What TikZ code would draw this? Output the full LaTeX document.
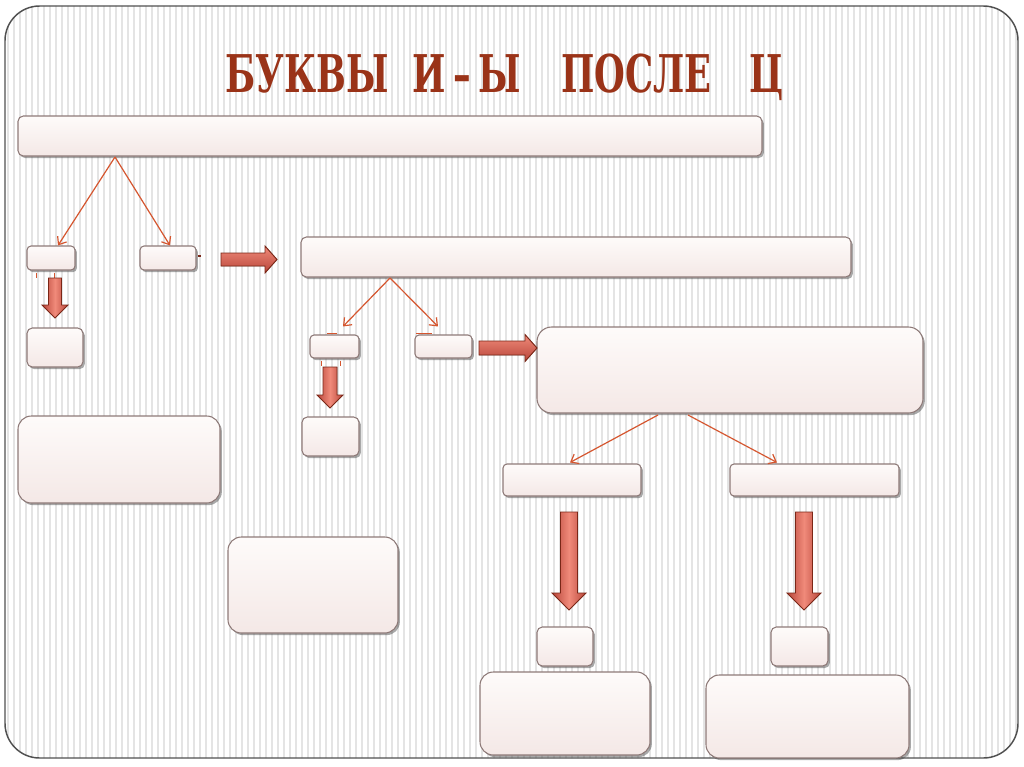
\documentclass[tikz,border=0pt]{standalone}
\usepackage{fontspec}
\newfontfamily\titlefont{DejaVu Serif}
\usetikzlibrary{arrows.meta,shadows,fit,calc}
\definecolor{boxfill}{HTML}{F4E8E6}
\definecolor{boxtop}{HTML}{FEFBFA}
\definecolor{boxedge}{HTML}{8E7A78}
\definecolor{thinarrow}{HTML}{D5562F}
\definecolor{fatlight}{HTML}{F08A7A}
\definecolor{fatdark}{HTML}{B8463A}
\definecolor{fatedge}{HTML}{7A2717}
\definecolor{titlered}{HTML}{9A3318}
\definecolor{stripecol}{HTML}{E4E4E4}
\definecolor{framecol}{HTML}{505050}
\tikzset{
  pbox/.style={draw=boxedge, line width=0.8pt, top color=boxtop, bottom color=boxfill,
    inner sep=0pt,
    drop shadow={shadow xshift=1.4pt, shadow yshift=-1.6pt, fill=black!75, opacity=0.45}},
  thinconn/.style={draw=thinarrow, line width=0.9pt, -{Straight Barb[length=5pt,width=8pt]}},
  fatH/.style={draw=fatedge, line width=0.7pt, top color=fatlight, bottom color=fatdark},
  fatV/.style={draw=fatedge, line width=0.7pt, left color=fatdark, right color=fatdark, middle color=fatlight},
  tick/.style={draw=thinarrow, line width=0.9pt}
}
\newcommand{\mkbox}[6]{\node[pbox, rounded corners=#6, fit={(#2,#3) (#4,#5)}] (#1) {};}
% right arrow: tail x, y centre, tip x, shaft half, head half, head length
\newcommand{\fatright}[6]{\filldraw[fatH] (#1,#2-#4) -- (#3-#6,#2-#4) -- (#3-#6,#2-#5) -- (#3,#2) -- (#3-#6,#2+#5) -- (#3-#6,#2+#4) -- (#1,#2+#4) -- cycle;}
% down arrow: x centre, tail y, tip y, shaft half, head half, head length
\newcommand{\fatdown}[6]{\filldraw[fatV] (#1-#4,#2) -- (#1-#4,#3-#6) -- (#1-#5,#3-#6) -- (#1,#3) -- (#1+#5,#3-#6) -- (#1+#4,#3-#6) -- (#1+#4,#2) -- cycle;}
\begin{document}
\begin{tikzpicture}[x=0.75pt,y=-0.75pt]
\useasboundingbox (0,0) rectangle (1024,767);
\fill[white] (0,0) rectangle (1024,767);
\begin{scope}
  \clip[rounded corners=26pt] (5,6) rectangle (1018,758);
  \foreach \x in {8,14,...,1016} \draw[stripecol, line width=1.2pt] (\x,0) -- (\x,767);
\end{scope}
\draw[framecol, line width=1.1pt, rounded corners=26pt] (5,6) rectangle (1018,758);

% title
\node[anchor=base west, inner sep=0pt, text=titlered] (title) at (225,93)
  {\scalebox{0.68}[1]{\titlefont\bfseries\fontsize{39}{39}\selectfont БУКВЫ\hspace*{26.5pt}И\hspace*{7.7pt}–\hspace*{8.8pt}Ы\hspace*{44pt}ПОСЛЕ\hspace*{42pt}Ц}};

% boxes
\mkbox{bar1}{18}{116}{762}{156}{4pt}
\mkbox{A}{27}{246}{75}{270}{3pt}
\mkbox{B}{140}{246}{196}{270}{3pt}
\mkbox{C}{27}{328}{83}{367}{4pt}
\mkbox{L1}{18}{416}{220}{503}{10pt}
\mkbox{L2}{228}{537}{398}{633}{10pt}
\mkbox{bar2}{301}{237}{851}{277}{4pt}
\mkbox{D}{310}{335}{359}{358}{3pt}
\mkbox{E}{415}{335}{472}{358}{3pt}
\mkbox{F}{302}{417}{359}{456}{4pt}
\mkbox{G}{537}{327}{923}{413}{11pt}
\mkbox{H}{503}{464}{641}{496}{3pt}
\mkbox{I}{730}{464}{899}{496}{3pt}
\mkbox{J}{537}{627}{593}{666}{4pt}
\mkbox{K}{771}{627}{828}{666}{4pt}
\mkbox{Lb}{480}{672}{650}{755}{10pt}
\mkbox{Mb}{706}{675}{909}{758}{10pt}

% thin connectors
\coordinate (s1) at (115,157);
\coordinate (s2) at (390,278);
\coordinate (s3) at (658,415);
\coordinate (s4) at (688,415);
\draw[thinconn] (s1) -- ($(A.north)+(7,0)$);
\draw[thinconn] (s1) -- ($(B.north)+(2,0)$);
\draw[thinconn] (s2) -- ($(D.north)+(8.5,-8)$);
\draw[thinconn] (s2) -- ($(E.north)+(-5.5,-8)$);
\draw[thinconn] (s3) -- ($(H.north)+(-2,-1)$);
\draw[thinconn] (s4) -- ($(I.north)+(-37.5,-1)$);

% small ticks
\draw[tick] ($(A.south west)+(10,2)$) -- ++(0,5);
\draw[tick] ($(A.south west)+(28,2)$) -- ++(0,5);
\draw[tick] ($(D.south west)+(12,2)$) -- ++(0,5);
\draw[tick] ($(D.south west)+(31,2)$) -- ++(0,5);
\draw[tick] ($(D.north west)+(18,-1)$) -- ++(10,0);
\draw[tick] ($(E.north west)+(2,-1)$) -- ++(16,0);
\draw[fatedge, line width=1.2pt] ($(B.east)+(1,-2)$) -- ++(3,0);

% fat arrows
\fatright{221}{259.5}{277}{6.5}{13.5}{12}
\fatright{479}{348}{537}{7}{13.5}{12}
\fatdown{55}{278}{318}{6.5}{13}{13}
\fatdown{330}{367}{408}{7}{13}{13}
\fatdown{569}{512}{610}{8.5}{17}{17}
\fatdown{804}{512}{610}{8.5}{17}{17}
\end{tikzpicture}
\end{document}
